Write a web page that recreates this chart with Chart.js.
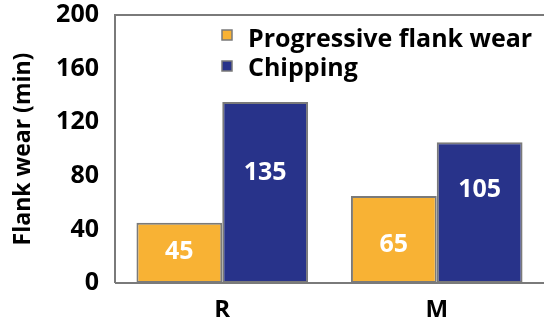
<!DOCTYPE html>
<html>
<head>
<meta charset="utf-8">
<script src="https://cdn.jsdelivr.net/npm/chart.js@4/dist/chart.umd.min.js"></script>
<style>
  html, body { margin: 0; padding: 0; background: #fff; }
  #wrap { width: 544px; height: 322px; }
</style>
</head>
<body>
<div id="wrap"><canvas id="c" width="544" height="322"></canvas></div>
<script>
const categories = ['R', 'M'];
const progressiveWear = [45, 65];
const chipping = [135, 105];
const yTicks = [0, 40, 80, 120, 160, 200];

const FONT = "'Open Sans', 'Noto Sans', sans-serif";
const EDGE = '#7a7a7a';

// Frame lines along the top, left and bottom of the plot area
const framePlugin = {
  id: 'frame',
  afterDraw(chart) {
    const { ctx, chartArea: a } = chart;
    ctx.save();
    ctx.strokeStyle = EDGE;
    ctx.lineWidth = 2;
    ctx.beginPath();
    ctx.moveTo(a.left, a.bottom);
    ctx.lineTo(a.left, a.top);
    ctx.lineTo(chart.width, a.top);
    ctx.moveTo(a.left, a.bottom);
    ctx.lineTo(chart.width, a.bottom);
    ctx.stroke();
    ctx.restore();
  }
};

// Value labels inside each bar
const valueLabels = {
  id: 'valueLabels',
  afterDatasetsDraw(chart, args, opts) {
    const { ctx } = chart;
    ctx.save();
    ctx.fillStyle = '#fff';
    ctx.font = 'bold 25px ' + FONT;
    ctx.textAlign = 'center';
    ctx.textBaseline = 'middle';
    chart.data.datasets.forEach((ds, di) => {
      chart.getDatasetMeta(di).data.forEach((bar, i) => {
        const f = opts.fractions[di][i];
        const y = bar.y + (bar.base - bar.y) * f;
        ctx.fillText(String(ds.data[i]), bar.x, y);
      });
    });
    ctx.restore();
  }
};

// Legend boxes and labels in the upper right of the plot
const legendPlugin = {
  id: 'boxLegend',
  afterDraw(chart) {
    const { ctx } = chart;
    ctx.save();
    ctx.font = 'bold 25px ' + FONT;
    ctx.textBaseline = 'alphabetic';
    chart.data.datasets.forEach((ds, i) => {
      const boxY = 30 + i * 31;
      ctx.fillStyle = ds.backgroundColor;
      ctx.fillRect(222, boxY, 10, 10);
      ctx.strokeStyle = EDGE;
      ctx.lineWidth = 1.5;
      ctx.strokeRect(222, boxY, 10, 10);
      ctx.fillStyle = '#000';
      ctx.fillText(ds.label, 248, 47 + i * 29);
    });
    ctx.restore();
  }
};

new Chart(document.getElementById('c'), {
  type: 'bar',
  data: {
    labels: categories,
    datasets: [
      { label: 'Progressive flank wear', data: progressiveWear,
        backgroundColor: '#f8b234', borderColor: EDGE, borderWidth: 2, borderSkipped: false },
      { label: 'Chipping', data: chipping,
        backgroundColor: '#28338a', borderColor: EDGE, borderWidth: 2, borderSkipped: false }
    ]
  },
  options: {
    responsive: false,
    animation: false,
    layout: { autoPadding: false, padding: { top: 15, right: 0, left: 0, bottom: 0 } },
    datasets: { bar: { categoryPercentage: 0.8, barPercentage: 1.0 } },
    plugins: {
      legend: { display: false },
      tooltip: { enabled: false },
      valueLabels: { fractions: [[0.48, 0.56], [0.39, 0.34]] }
    },
    scales: {
      x: {
        grid: { display: false, drawTicks: false },
        border: { display: false },
        ticks: { color: '#000', font: { family: FONT, size: 24, weight: 'bold' }, padding: 13 },
        afterFit(s) { s.height = 39; s.paddingLeft = 0; s.paddingRight = 0; }
      },
      y: {
        min: 0, max: 200,
        afterBuildTicks(s) { s.ticks = yTicks.map(v => ({ value: v })); },
        grid: { display: false, drawTicks: false },
        border: { display: false },
        ticks: { color: '#000', font: { family: FONT, size: 25, weight: 'bold' }, padding: 16 },
        title: { display: true, text: 'Flank wear (min)', color: '#000',
                 font: { family: FONT, size: 23, weight: 'bold' }, padding: { top: 10, bottom: 0 } },
        afterFit(s) { s.width = 115; s.paddingTop = 0; s.paddingBottom = 0; }
      }
    }
  },
  plugins: [framePlugin, valueLabels, legendPlugin]
});
</script>
</body>
</html>
